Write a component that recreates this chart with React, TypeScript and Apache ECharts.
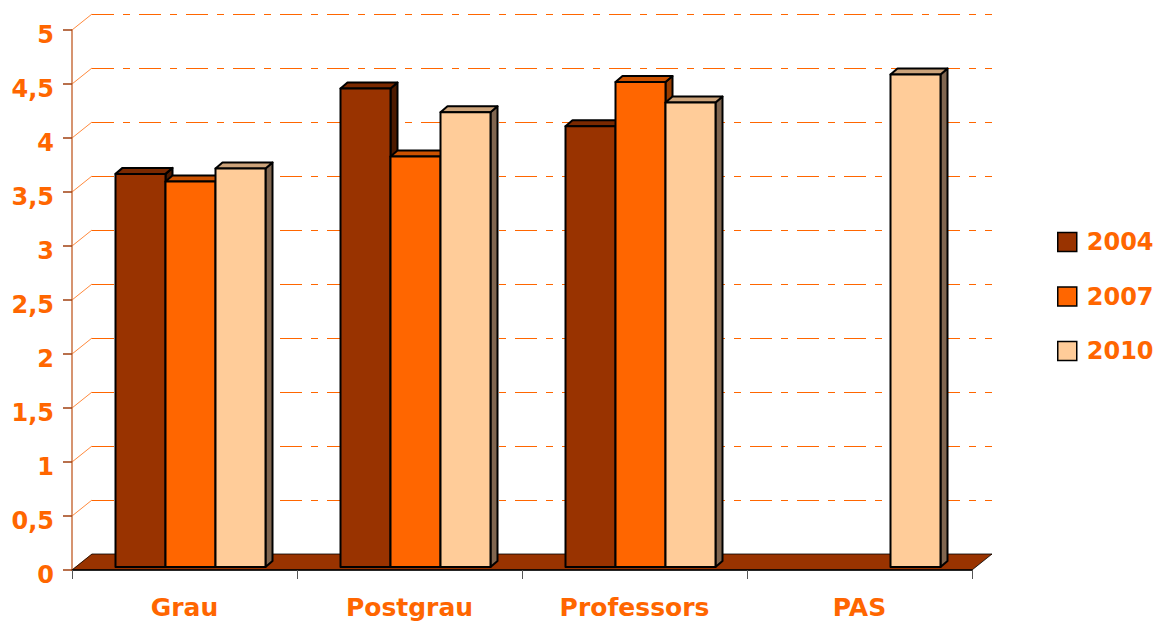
import React, { useEffect, useRef } from "react";
import * as echarts from "echarts";

const categories = ["Grau", "Postgrau", "Professors", "PAS"];
const years = ["2004", "2007", "2010"];
const values2004: (number | null)[] = [3.64, 4.43, 4.08, null];
const values2007: (number | null)[] = [3.57, 3.8, 4.49, null];
const values2010: (number | null)[] = [3.69, 4.21, 4.3, 4.56];
const yTickValues = [0, 0.5, 1, 1.5, 2, 2.5, 3, 3.5, 4, 4.5, 5];

const frontColors = ["#993300", "#FF6600", "#FFCC99"];
const topColors = ["#7A2900", "#CC5200", "#CCA37A"];
const sideColors = ["#4D1A00", "#993D00", "#806650"];

const ORANGE = "#FF6600";
const FONT = "DejaVu Sans";
const DEPTH_X = 20;
const DEPTH_Y = 16;
const BAR_DX = 7;
const BAR_DY = 6;

function barRender(idx: number) {
  return (params: any, api: any) => {
    const v = api.value(1);
    if (v == null || isNaN(v)) return null;
    const cat = api.value(0);
    const band = api.size([1, 0])[0];
    const w = (band * 2) / 9;
    const c = api.coord([cat, v]);
    const b = api.coord([cat, 0]);
    const x0 = c[0] + (idx - 1.5) * w;
    const x1 = x0 + w;
    const yt = c[1];
    const yb = b[1];
    const stroke = { stroke: "#000", lineWidth: 2, lineJoin: "round" };
    return {
      type: "group",
      children: [
        {
          type: "polygon",
          shape: { points: [[x1, yt], [x1 + BAR_DX, yt - BAR_DY], [x1 + BAR_DX, yb - BAR_DY], [x1, yb]] },
          style: { fill: sideColors[idx], ...stroke },
        },
        {
          type: "polygon",
          shape: { points: [[x0, yt], [x0 + BAR_DX, yt - BAR_DY], [x1 + BAR_DX, yt - BAR_DY], [x1, yt]] },
          style: { fill: topColors[idx], ...stroke },
        },
        {
          type: "rect",
          shape: { x: x0, y: yt, width: w, height: yb - yt },
          style: { fill: frontColors[idx], ...stroke },
        },
      ],
    };
  };
}

export default function App() {
  const ref = useRef<HTMLDivElement>(null);
  useEffect(() => {
    if (!ref.current) return;
    const chart = echarts.init(ref.current, undefined, { renderer: "svg" });
    const seriesValues = [values2004, values2007, values2010];
    const barSeries = years.map((y, i) => ({
      name: y,
      type: "custom",
      xAxisIndex: 2,
      yAxisIndex: 2,
      itemStyle: { color: frontColors[i] },
      encode: { x: 0, y: 1 },
      data: seriesValues[i]
        .map((v, ci) => (v == null ? null : [ci, v]))
        .filter((d) => d !== null),
      renderItem: barRender(i),
      z: 5,
    }));

    const option: any = {
      animation: false,
      backgroundColor: "#fff",
      grid: [
        { left: 72, top: 30, width: 900, height: 540 },
        { left: 72 + DEPTH_X, top: 30 - DEPTH_Y, width: 900, height: 540 },
        { left: 78, top: 27, width: 900, height: 540 },
      ],
      xAxis: [
        {
          type: "category",
          gridIndex: 0,
          data: categories,
          z: 10,
          axisLine: { show: true, lineStyle: { color: "#000", width: 1.5 } },
          axisTick: { show: true, length: 9, lineStyle: { color: "#555" } },
          axisLabel: {
            color: ORANGE,
            fontFamily: FONT,
            fontWeight: "bold",
            fontSize: 25,
            margin: 25,
          },
        },
        { type: "category", gridIndex: 1, data: categories, show: false },
        { type: "category", gridIndex: 2, data: categories, show: false },
      ],
      yAxis: [
        {
          type: "value",
          gridIndex: 0,
          min: 0,
          max: 5,
          interval: 0.5,
          z: 10,
          axisLine: { show: true, lineStyle: { color: "#C87040", width: 1.5 } },
          axisTick: { show: true, length: 9, lineStyle: { color: "#A04010", width: 1.5 } },
          splitLine: { show: false },
          axisLabel: {
            margin: 18,
            formatter: (v: number) => "{a|" + String(v).replace(".", ",") + "}",
            rich: {
              a: {
                color: ORANGE,
                fontFamily: FONT,
                fontWeight: "bold",
                fontSize: 24,
                padding: [10, 0, 0, 0],
              },
            },
          },
        },
        {
          type: "value",
          gridIndex: 1,
          min: 0,
          max: 5,
          interval: 0.5,
          axisLine: { show: false },
          axisTick: { show: false },
          axisLabel: { show: false },
          splitLine: {
            show: true,
            lineStyle: { color: ORANGE, width: 1, type: [22, 9, 7, 9] },
          },
        },
        { type: "value", gridIndex: 2, min: 0, max: 5, interval: 0.5, show: false, splitLine: { show: false } },
      ],
      legend: {
        orient: "vertical",
        left: 1052,
        top: 224,
        itemWidth: 19,
        itemHeight: 19,
        itemGap: 28.5,
        icon: "rect",
        data: years.map((y, i) => ({
          name: y,
          itemStyle: { color: frontColors[i], borderColor: "#000", borderWidth: 1.5 },
        })),
        textStyle: {
          color: ORANGE,
          fontFamily: FONT,
          fontWeight: "bold",
          fontSize: 24,
          lineHeight: 26,
          padding: [0, 0, 0, 5],
        },
      },
      series: [
        {
          type: "custom",
          name: "connectors",
          xAxisIndex: 0,
          yAxisIndex: 0,
          silent: true,
          encode: { x: 0, y: 1 },
          data: yTickValues.map((v) => [0, v]),
          renderItem: (params: any, api: any) => {
            const cs = params.coordSys;
            const y = api.coord([0, api.value(1)])[1];
            return {
              type: "line",
              shape: { x1: cs.x, y1: y, x2: cs.x + DEPTH_X, y2: y - DEPTH_Y },
              style: { stroke: "#FF8A3D", lineWidth: 1 },
            };
          },
          z: 1,
        },
        {
          type: "custom",
          name: "floor",
          xAxisIndex: 0,
          yAxisIndex: 0,
          silent: true,
          encode: { x: 0, y: 1 },
          data: [[0, 0]],
          renderItem: (params: any, api: any) => {
            const cs = params.coordSys;
            const yb = api.coord([0, 0])[1];
            const xl = cs.x;
            const xr = cs.x + cs.width;
            return {
              type: "polygon",
              shape: {
                points: [
                  [xl, yb],
                  [xl + DEPTH_X, yb - DEPTH_Y],
                  [xr + DEPTH_X, yb - DEPTH_Y],
                  [xr, yb],
                ],
              },
              style: { fill: "#993300", stroke: "#000", lineWidth: 0.8 },
            };
          },
          z: 2,
        },
        ...barSeries,
      ],
    };
    chart.setOption(option);
    return () => chart.dispose();
  }, []);
  return (
    <div
      ref={ref}
      style={{ position: "fixed", left: 0, top: 0, width: 1155, height: 623 }}
    />
  );
}
